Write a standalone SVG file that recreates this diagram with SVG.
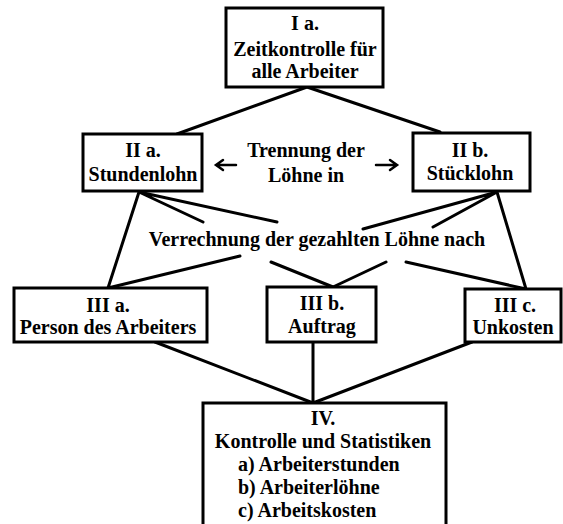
<svg xmlns="http://www.w3.org/2000/svg" width="563" height="524" viewBox="0 0 563 524">
<style>
.box{fill:#fff;stroke:#000;stroke-width:3}
.ln{stroke:#000;stroke-width:3;fill:none;stroke-linecap:round}
.ar{stroke:#000;stroke-width:2.5;fill:none;stroke-linecap:round;stroke-linejoin:miter}
text{font-family:"Liberation Serif","Times New Roman",serif;font-weight:bold;font-size:20px;fill:#000;text-anchor:middle}
.l{text-anchor:start}
</style>
<rect width="563" height="524" fill="#fff"/>
<g id="connectors">
<path class="ln" d="M307 87L177 134M307 87L440 132"/>
<path class="ln" d="M139 192L108 288M139 192L203 222M139 192L277 222M240 256L108 288M271 262L333 287M386 262L333 287M406 262L526 289"/>
<path class="ln" d="M497 192L363 229M497 192L433 227M497 192L526 289"/>
<path class="ln" d="M155 342L313 403M313 342L313 403M472 342L313 403"/>
</g>
<g id="node-Ia">
<rect class="box" x="226" y="8" width="157" height="79"/>
<text x="305" y="30">I a.</text>
<text x="305" y="56">Zeitkontrolle für</text>
<text x="305" y="78">alle Arbeiter</text>
</g>
<g id="node-IIa">
<rect class="box" x="83" y="134" width="119" height="57"/>
<text x="143" y="157">II a.</text>
<text x="143" y="181">Stundenlohn</text>
</g>
<g id="node-IIb">
<rect class="box" x="413" y="133" width="117" height="58"/>
<text x="470" y="157">II b.</text>
<text x="470" y="180">Stücklohn</text>
</g>
<g id="label-trennung">
<text x="306" y="157">Trennung der</text>
<text x="306" y="182">Löhne in</text>
<path class="ar" d="M236 165H217M223 160L216 165L223 170"/>
<path class="ar" d="M376 165H396M390 160L397 165L390 170"/>
</g>
<g id="label-verrechnung">
<text x="317" y="246">Verrechnung der gezahlten Löhne nach</text>
</g>
<g id="node-IIIa">
<rect class="box" x="14" y="288" width="193" height="54"/>
<text x="108" y="312">III a.</text>
<text x="108" y="334">Person des Arbeiters</text>
</g>
<g id="node-IIIb">
<rect class="box" x="267" y="287" width="109" height="55"/>
<text x="322" y="310">III b.</text>
<text x="322" y="333">Auftrag</text>
</g>
<g id="node-IIIc">
<rect class="box" x="465" y="289" width="96" height="53"/>
<text x="515" y="312">III c.</text>
<text x="513" y="334">Unkosten</text>
</g>
<g id="node-IV">
<rect class="box" x="203" y="403" width="243" height="130"/>
<text x="323" y="425">IV.</text>
<text x="323" y="448">Kontrolle und Statistiken</text>
<text class="l" x="238" y="471">a) Arbeiterstunden</text>
<text class="l" x="238" y="494">b) Arbeiterlöhne</text>
<text class="l" x="238" y="517">c) Arbeitskosten</text>
</g>
</svg>
